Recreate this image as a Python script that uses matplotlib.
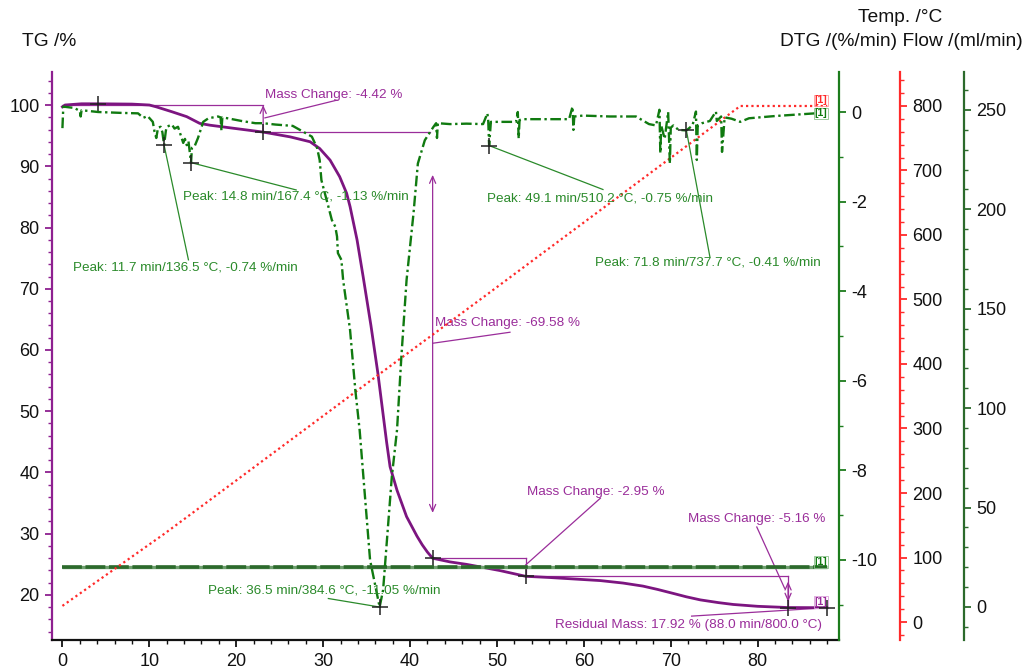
import numpy as np
import matplotlib
matplotlib.use("Agg")
import matplotlib.pyplot as plt
from matplotlib.ticker import MultipleLocator

plt.rcParams["font.family"] = ["Liberation Sans", "DejaVu Sans"]
plt.rcParams["axes.unicode_minus"] = False

# ---------------- data ----------------
# TG curve (time in min, mass in %)
tg_time = [0.0, 0.3, 2.2, 4.1, 8.0, 10.0, 10.8, 12.6, 14.3, 15.8, 17.0, 19.7, 23.1,
           26.2, 28.5, 29.6, 30.8, 31.9, 32.7, 33.1, 33.9, 34.6, 35.5, 36.3, 37.3,
           37.7, 38.5, 39.6, 40.8, 41.4, 42.0, 42.6, 44.6, 46.5, 50.3, 53.3, 56.1,
           59.0, 61.9, 64.5, 66.8, 68.5, 70.3, 71.8, 73.4, 75.5, 77.2, 80.0, 83.5, 88.0]
tg_mass = [99.7, 100.0, 100.2, 100.2, 100.15, 100.0, 99.7, 98.9, 98.1, 97.0, 96.7, 96.2, 95.58,
           94.8, 94.0, 92.9, 91.0, 88.3, 85.6, 83.4, 78.0, 72.0, 64.0, 56.2, 45.0,
           40.95, 37.1, 32.8, 29.6, 28.2, 27.0, 26.0, 25.4, 25.0, 24.0, 23.05, 22.85,
           22.6, 22.35, 21.95, 21.45, 20.9, 20.25, 19.7, 19.2, 18.75, 18.45, 18.15, 17.95, 17.92]

# DTG curve (time in min, rate in %/min)
dtg_time = [0.0, 0.1, 1.4, 2.0, 2.1, 2.2, 4.1, 6.8, 8.7, 9.3, 9.8, 10.4, 10.6, 10.8, 11.0,
            11.3, 11.5, 11.7, 11.9, 12.0, 12.6, 12.9, 13.3, 13.6, 13.9, 14.1, 14.3, 14.5,
            14.8, 14.9, 15.2, 15.6, 16.2, 16.8, 17.9, 18.2, 18.3, 18.4, 19.0, 20.6, 22.2,
            23.1, 24.5, 26.5, 27.7, 28.7, 29.3, 29.6, 29.8, 30.0, 30.6, 31.0, 31.4, 31.6,
            31.7, 32.1, 32.3, 33.1, 33.7, 34.2, 35.4, 36.5, 36.9, 37.9, 38.5, 39.0, 39.6,
            40.4, 40.9, 41.7, 42.7, 43.0, 43.1, 43.2, 44.6, 46.5, 48.4, 48.9, 49.0, 49.1,
            49.3, 50.3, 52.2, 52.4, 52.5, 52.6, 53.0, 56.0, 58.3, 58.7, 58.8, 58.9, 59.9,
            63.0, 66.0, 67.5, 68.3, 68.7, 68.8, 68.9, 69.3, 69.7, 69.9, 70.0, 70.3, 70.9,
            71.8, 72.5, 72.9, 73.0, 73.1, 73.6, 74.5, 75.2, 75.3, 75.8, 75.9, 76.2, 77.0,
            78.0, 79.0, 82.0, 86.6]
dtg_rate = [-0.36, 0.12, 0.09, 0.02, -0.10, 0.04, 0.0, -0.02, -0.03, -0.13, -0.09, -0.22, -0.44, -0.58, -0.35,
            -0.33, -0.45, -0.74, -0.42, -0.33, -0.28, -0.37, -0.33, -0.51, -0.69, -0.60, -0.74, -0.65,
            -1.13, -0.80, -0.77, -0.58, -0.22, -0.14, -0.10, -0.12, -0.42, -0.12, -0.14, -0.20, -0.25,
            -0.25, -0.28, -0.31, -0.44, -0.55, -0.80, -1.07, -1.52, -1.67, -2.11, -2.41, -2.56, -2.78,
            -3.15, -3.30, -3.75, -4.87, -6.20, -7.10, -10.0, -11.05, -10.67, -8.15, -7.10, -5.47, -3.75,
            -2.26, -1.15, -0.63, -0.33, -0.25, -0.58, -0.25, -0.27, -0.26, -0.27, -0.03, -0.20, -0.75,
            -0.22, -0.22, -0.22, 0.0, -0.59, -0.18, -0.16, -0.16, -0.16, 0.12, -0.40, -0.10, -0.08,
            -0.10, -0.10, -0.27, -0.30, 0.05, -0.92, -0.30, -0.60, 0.0, -1.15, -0.35, -0.30, -0.40,
            -0.41, -0.30, 0.01, -1.07, -0.30, -0.25, -0.20, 0.01, -0.20, -0.10, -0.89, -0.12, -0.15,
            -0.22, -0.14, -0.09, -0.03]

# Temperature programme
temp_time = [0.0, 11.7, 14.8, 36.5, 49.1, 71.8, 78.0, 88.0]
temp_value = [25.0, 136.5, 167.4, 384.6, 510.2, 737.7, 800.0, 800.0]

# Purge gas flow
flow_time = [0.0, 88.0]
flow_value = [20.0, 20.0]

# DTG peak evaluations
peak_time = [11.7, 14.8, 36.5, 49.1, 71.8]
peak_temp = [136.5, 167.4, 384.6, 510.2, 737.7]
peak_rate = [-0.74, -1.13, -11.05, -0.75, -0.41]

# Mass-change steps
step_time = [23.1, 42.6, 53.3, 83.5]
step_change = [-4.42, -69.58, -2.95, -5.16]
start_mass = 100.0
residual_time = 88.0
residual_temp = 800.0
residual_mass = 17.92

# ---------------- style ----------------
PURPLE_LINE = "#7c1580"
PURPLE_TXT = "#9a2d9a"
PURPLE_AX = "#8e2090"
GREEN_LINE = "#107a10"
GREEN_TXT = "#2a8a2a"
GREEN_AX = "#1c7c1c"
FLOW_GREEN = "#2c6a2c"
RED = "#ff2a2a"
TXT = 9.7

fig = plt.figure(figsize=(10.3, 6.7), dpi=100)
ax = fig.add_axes([52 / 1030, 30 / 670, 787 / 1030, 568 / 670])
ax_flow = ax.twinx()
ax_temp = ax.twinx()
ax_dtg = ax.twinx()

ax.set_xlim(-1.2, 89.36)
ax.set_ylim(12.65, 105.39)
ax_dtg.set_ylim(-11.786, 0.893)
ax_temp.set_ylim(-27.9, 852.7)
ax_flow.set_ylim(-16.6, 269.1)

# spines
for s in ["top", "right"]:
    ax.spines[s].set_visible(False)
ax.spines["left"].set_color(PURPLE_AX)
ax.spines["left"].set_linewidth(1.6)
ax.spines["bottom"].set_color("#111111")
ax.spines["bottom"].set_linewidth(1.6)
for a, pos, col in [(ax_dtg, 1.0, GREEN_AX), (ax_temp, 1.0775, RED), (ax_flow, 1.1588, FLOW_GREEN)]:
    for s in ["top", "left", "bottom"]:
        a.spines[s].set_visible(False)
    a.spines["right"].set_position(("axes", pos))
    a.spines["right"].set_color(col)
    a.spines["right"].set_linewidth(1.6)
    a.tick_params(axis="y", which="both", colors=col, labelcolor="#111111", direction="out")
    a.tick_params(axis="y", which="major", length=5, width=1.3, labelsize=13, pad=4)
    a.tick_params(axis="y", which="minor", length=3, width=1.0)

ax.tick_params(axis="y", which="both", colors=PURPLE_AX, labelcolor="#111111", direction="out")
ax.tick_params(axis="x", which="both", colors="#111111", direction="out")
ax.tick_params(which="major", length=5, width=1.3, labelsize=13, pad=4)
ax.tick_params(which="minor", length=3, width=1.0)

ax.xaxis.set_major_locator(MultipleLocator(10))
ax.xaxis.set_minor_locator(MultipleLocator(2))
ax.yaxis.set_major_locator(MultipleLocator(10))
ax.yaxis.set_minor_locator(MultipleLocator(2))
ax_dtg.yaxis.set_major_locator(MultipleLocator(2))
ax_dtg.yaxis.set_minor_locator(MultipleLocator(1))
ax_temp.yaxis.set_major_locator(MultipleLocator(100))
ax_temp.yaxis.set_minor_locator(MultipleLocator(20))
ax_flow.yaxis.set_major_locator(MultipleLocator(50))
ax_flow.yaxis.set_minor_locator(MultipleLocator(10))
ax.set_yticks(np.arange(20, 101, 10))
ax.set_xticks(np.arange(0, 81, 10))
ax_dtg.set_yticks(np.arange(-10, 1, 2))
ax_temp.set_yticks(np.arange(0, 801, 100))
ax_flow.set_yticks(np.arange(0, 251, 50))

# ---------------- curves ----------------
ax_flow.plot(flow_time, flow_value, color="#6f9f6f", lw=2.4, solid_capstyle="butt")
ax_flow.plot(flow_time, flow_value, color=FLOW_GREEN, lw=2.6, linestyle=(0, (5.5, 1.0)))
ax_temp.plot(temp_time, temp_value, color=RED, lw=1.6, linestyle=(0, (1, 1.4)))
ax.plot(tg_time, tg_mass, color=PURPLE_LINE, lw=2.0, zorder=3)
ax_dtg.plot(dtg_time, dtg_rate, color=GREEN_LINE, lw=1.7, linestyle=(0, (4.5, 1.5, 1, 1.5)))

# ---------------- end-of-curve labels ----------------
def end_tag(a, x, y, col, edge, dy):
    a.annotate("[1]", xy=(x, y), xytext=(0, dy), textcoords="offset points",
               ha="right", va="center", fontsize=7.5, color=col, fontweight="bold",
               bbox=dict(boxstyle="square,pad=0.08", fc="none", ec=edge, lw=0.6))

end_tag(ax_temp, temp_time[-1], temp_value[-1], RED, "#ff9a9a", 4)
end_tag(ax_dtg, 88.0, dtg_rate[-1], GREEN_LINE, "#8fc08f", 0)
end_tag(ax, residual_time, residual_mass, PURPLE_TXT, "#d9a0d9", 4)
end_tag(ax_flow, flow_time[-1], flow_value[-1], GREEN_LINE, "#8fc08f", 4)

# ---------------- mass-change evaluation ----------------
levels = start_mass + np.cumsum([0.0] + step_change)
lk = dict(color=PURPLE_TXT, lw=0.9)
ak = dict(arrowstyle="<->,head_length=0.5,head_width=0.22", color=PURPLE_TXT, lw=0.9,
          shrinkA=0, shrinkB=0)

# reference levels
ax.plot([0.0, step_time[0]], [levels[0], levels[0]], **lk)
ax.plot([step_time[0], step_time[1] - 0.3], [levels[1], levels[1]], **lk)
ax.plot([step_time[1], step_time[2]], [levels[2], levels[2]], **lk)
ax.plot([step_time[2], step_time[2]], [levels[2], levels[3]], **lk)
ax.plot([step_time[2], step_time[3]], [levels[3], levels[3]], **lk)

# step 1
ax.annotate("", xy=(step_time[0], levels[0]), xytext=(step_time[0], levels[1]),
            arrowprops=dict(arrowstyle="->,head_length=0.5,head_width=0.22", color=PURPLE_TXT,
                            lw=0.9, shrinkA=0, shrinkB=0))
ax.plot([step_time[0] + 0.2, 31.6], [97.9, 100.8], **lk)
ax.text(23.3, 101.6, f"Mass Change: {step_change[0]:.2f} %", color=PURPLE_TXT,
        fontsize=TXT, ha="left", va="center")
# step 2
ax.annotate("", xy=(step_time[1], 88.6), xytext=(step_time[1], 33.4), arrowprops=ak)
ax.plot([step_time[1], 51.5], [61.1, 62.9], **lk)
ax.text(42.9, 64.4, f"Mass Change: {step_change[1]:.2f} %", color=PURPLE_TXT,
        fontsize=TXT, ha="left", va="center")
# step 3
ax.plot([step_time[2], 61.9], [24.9, 35.8], **lk)
ax.text(53.5, 36.8, f"Mass Change: {step_change[2]:.2f} %", color=PURPLE_TXT,
        fontsize=TXT, ha="left", va="center")
# step 4
ax.plot([step_time[3], step_time[3]], [levels[3], levels[4]], **lk)
ax.annotate("", xy=(step_time[3], 22.2), xytext=(step_time[3], 18.9), arrowprops=ak)
ax.plot([79.9, 83.1], [31.1, 21.1], **lk)
ax.text(72.0, 32.4, f"Mass Change: {step_change[3]:.2f} %", color=PURPLE_TXT,
        fontsize=TXT, ha="left", va="center")
# residual
ax.plot([72.4, residual_time], [16.55, residual_mass], **lk)
ax.text(56.7, 15.1, f"Residual Mass: {residual_mass:.2f} % ({residual_time:.1f} min/{residual_temp:.1f} °C)",
        color=PURPLE_TXT, fontsize=TXT, ha="left", va="center")

# crosses on TG
cross_t = [4.1] + step_time + [residual_time]
cross_m = [float(np.interp(4.1, tg_time, tg_mass))] + list(levels[1:]) + [residual_mass]
ax.plot(cross_t, cross_m, linestyle="none", marker="+", ms=11, mew=1.1, color="#222222", zorder=5)

# ---------------- DTG peaks ----------------
peak_text = [(1.2, -3.46), (13.9, -1.875), (16.7, -10.67), (48.85, -1.92), (61.3, -3.37)]
peak_lead = [(14.5, -3.30), (26.9, -1.74), (30.6, -10.86), (62.2, -1.73), (74.5, -3.23)]
for t, T, r, (tx, ty), (lx, ly) in zip(peak_time, peak_temp, peak_rate, peak_text, peak_lead):
    ax_dtg.plot([t, lx], [r, ly], color=GREEN_TXT, lw=0.9)
    ax_dtg.text(tx, ty, f"Peak: {t:.1f} min/{T:.1f} °C, {r:.2f} %/min", color=GREEN_TXT,
                fontsize=TXT, ha="left", va="center")
ax_dtg.plot(peak_time, peak_rate, linestyle="none", marker="+", ms=11, mew=1.1,
            color="#222222", zorder=5)

# ---------------- axis titles ----------------
fig.text(22 / 1030, 1 - 42 / 670, "TG /%", fontsize=13.8, ha="left", va="center", color="#111111")
fig.text(900 / 1030, 1 - 18 / 670, "Temp. /°C", fontsize=13.8, ha="center", va="center", color="#111111")
fig.text(1023 / 1030, 1 - 42 / 670, "DTG /(%/min) Flow /(ml/min)", fontsize=13.8,
         ha="right", va="center", color="#111111")

fig.savefig("out.png", dpi=100)
